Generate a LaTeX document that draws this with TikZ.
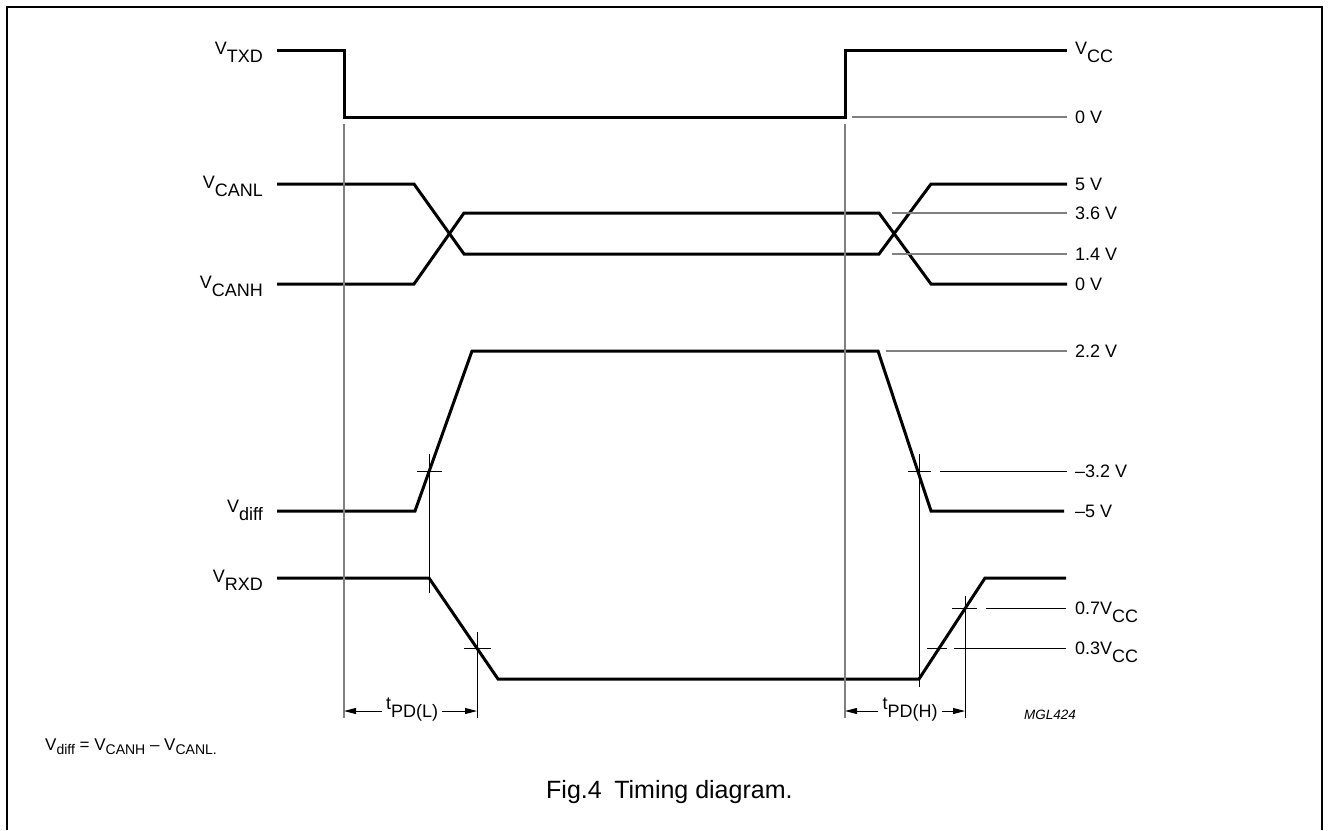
\documentclass[tikz,border=0pt]{standalone}
\usepackage{fontspec}
\setmainfont{Liberation Sans}
\usetikzlibrary{arrows.meta}
\tikzset{
  wave/.style={line width=3pt, line join=miter},
  refline/.style={line width=1.5pt, black!50},
  markline/.style={line width=1pt, black},
  dimarrow/.style={line width=1pt, -{Triangle[length=12pt,width=6pt]}},
  siglabel/.style={anchor=base east, inner sep=0pt, font=\fontsize{18}{22}\selectfont},
  vallabel/.style={anchor=base west, inner sep=0pt, font=\fontsize{18}{22}\selectfont},
  dimlabel/.style={anchor=base, inner ysep=0pt, inner xsep=4pt, font=\fontsize{18}{22}\selectfont},
}
\newcommand\sig[2]{#1\raisebox{-0.45em}{#2}}
\newcommand\low[1]{\raisebox{-4pt}{\fontsize{14}{17}\selectfont #1}}

\begin{document}
\begin{tikzpicture}[x=1pt,y=-1pt]
\useasboundingbox (0,0) rectangle (1329,830);
% frame
\draw[line width=1.5pt] (7,830) -- (7,7) -- (1322,7) -- (1322,830);
% waveforms
\draw[wave] (277,50) -- (344,50) -- (344,117) -- (845,117) -- (845,50) -- (1067,50);
\draw[wave] (277,184) -- (414,184) -- (464,254) -- (879,254) -- (931,184) -- (1067,184);
\draw[wave] (277,284) -- (414,284) -- (464,213) -- (879,213) -- (931,284) -- (1067,284);
\draw[wave] (277,511) -- (415,511) -- (472,351) -- (878,351) -- (931,511) -- (1064,511);
\draw[wave] (277,578) -- (429,578) -- (498,679) -- (919,679) -- (985,578) -- (1066,578);
% reference levels
\draw[refline] (852,117) -- (1067,117);
\draw[refline] (892,213) -- (1067,213);
\draw[refline] (892,254) -- (1067,254);
\draw[refline] (886,351) -- (1067,351);
\draw[refline] (344,124) -- (344,718);
\draw[refline] (845,124) -- (845,718);
% thresholds and crossings
\draw[markline] (429,454) -- (429,593) (417,471) -- (442,471);
\draw[markline] (477,632) -- (477,718) (464,648) -- (491,648);
\draw[markline] (919,454) -- (919,687) (908,471) -- (931,471) (940,471) -- (1067,471);
\draw[markline] (965,596) -- (965,718) (952,608) -- (977,608) (986,608) -- (1066,608);
\draw[markline] (927,648) -- (947,648) (954,648) -- (1066,648);
% signal names
\node[siglabel] (txd) at (263,54) {\sig{V}{TXD}};
\node[siglabel] (canl) at (263,188) {\sig{V}{CANL}};
\node[siglabel] (canh) at (263,288) {\sig{V}{CANH}};
\node[siglabel] (vdiff) at (263,512) {\sig{V}{diff}};
\node[siglabel] (rxd) at (263,582) {\sig{V}{RXD}};
% levels
\node[vallabel] (vcc) at (1075,54) {\sig{V}{CC}};
\foreach \y/\txt/\nm in {117/0 V/txdlow, 184/5 V/five, 213/3.6 V/domhigh, 254/1.4 V/domlow,
    284/0 V/zero, 351/2.2 V/diffhigh, 471/–3.2 V/diffthr, 511/–5 V/difflow,
    608/{0.7\sig{V}{CC}}/rxdhigh, 648/{0.3\sig{V}{CC}}/rxdlow}
  \node[vallabel] (\nm) at (1075,\y+6.5) {\txt};
% propagation delays
\coordinate (pdla) at (344,711);
\coordinate (pdlb) at (477,711);
\coordinate (pdha) at (845,711);
\coordinate (pdhb) at (965,711);
\node[dimlabel] (tpdl) at (412,709) {\sig{t}{PD(L)}};
\node[dimlabel] (tpdh) at (910,709) {\sig{t}{PD(H)}};
\draw[dimarrow] (tpdl.west |- pdla) -- (pdla);
\draw[dimarrow] (tpdl.east |- pdlb) -- (pdlb);
\draw[dimarrow] (tpdh.west |- pdha) -- (pdha);
\draw[dimarrow] (tpdh.east |- pdhb) -- (pdhb);
\node[anchor=base west, inner sep=0pt, font=\fontsize{13.5}{16}\selectfont\itshape] (code) at (1024,719) {MGL424};
% notes
\node[anchor=base west, inner sep=0pt, font=\fontsize{17}{20}\selectfont] (note) at (45,750)
  {V\low{diff} = V\low{CANH} – V\low{CANL}\low{.}};
\node[anchor=base west, inner sep=0pt, font=\fontsize{25}{30}\selectfont] (caption) at (546,798)
  {Fig.4\hspace{0.5em}Timing diagram.};
\end{tikzpicture}
\end{document}
